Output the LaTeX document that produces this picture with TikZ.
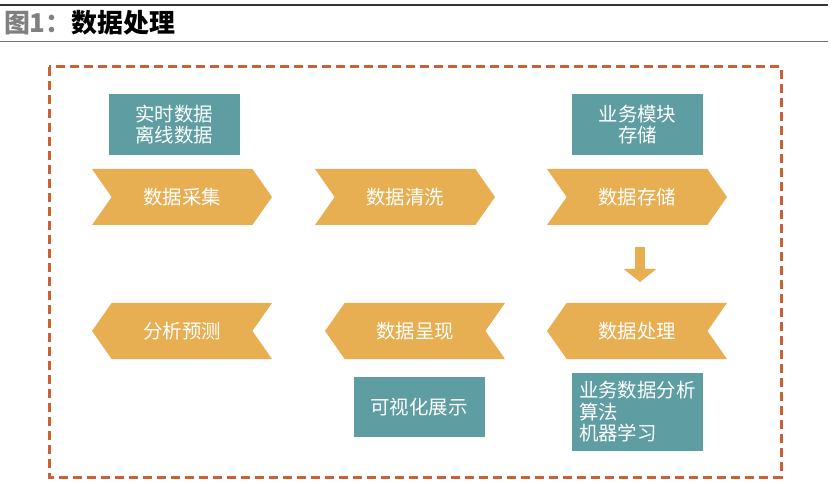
\documentclass[tikz,border=0pt]{standalone}
\usepackage{fontspec}
\setmainfont{Noto Sans CJK SC}
\usepackage{tikz}
\usetikzlibrary{shapes.symbols}
\usetikzlibrary{arrows.meta}
\definecolor{gold}{HTML}{E8AE52}
\definecolor{sea}{HTML}{5E9EA2}
\definecolor{rust}{HTML}{CC5F33}

\begin{document}
\begin{tikzpicture}
      [x=1bp, y=-1bp,
       every node/.style={outer sep=0pt, inner sep=0pt, text=white,
         font=\fontsize{19.5}{21.5}\selectfont},
       stage/.style={signal, signal pointer angle=110, fill=gold,
         minimum width=180bp, minimum height=56bp},
       fwd/.style={stage, signal to=east, signal from=west},
       back/.style={stage, signal to=west, signal from=east},
       box/.style={fill=sea, minimum width=131bp, align=center}]
      \useasboundingbox (0,0) rectangle (834,484);
      \draw [line width=2bp, black!80] (0,5) -- (828,5);
      \draw [line width=1.5bp, black!55] (0,41.5) -- (828,41.5);
      \node (title) [anchor=west, text=black, font=\fontsize{26}{30}\selectfont\bfseries]
        at (4,23) {\textcolor{black!50}{图1：}数据处理};
      \draw [rust, line width=3bp, dash pattern=on 9bp off 5bp] (49,67) rectangle (781,477);

      \node (collect) [fwd] at (182,197) {数据采集};
      \node (clean) [fwd] at (405,197) {数据清洗};
      \node (store) [fwd] at (637,197) {数据存储};
      \node (process) [back] at (637,331) {数据处理};
      \node (show) [back] at (415,331) {数据呈现};
      \node (predict) [back] at (182,331) {分析预测};

      \node (source) [box, minimum height=61bp] at (174,124.5) {实时数据\\离线数据};
      \node (module) [box, minimum height=61bp] at (637.5,124.5) {业务模块\\存储};
      \node (visual) [box, minimum height=60bp] at (419,407) {可视化展示};
      \node (algo) [box, minimum height=78bp, align=left, text width=117bp]
        at (637.5,412) {业务数据分析\\算法\\机器学习};

      \draw [gold, line width=10bp, -{Triangle[width=32bp,length=13bp]},
        shorten <=22bp, shorten >=21bp] ([xshift=3bp]store.south) -- ([xshift=3bp]process.north);
    \end{tikzpicture}
\end{document}
